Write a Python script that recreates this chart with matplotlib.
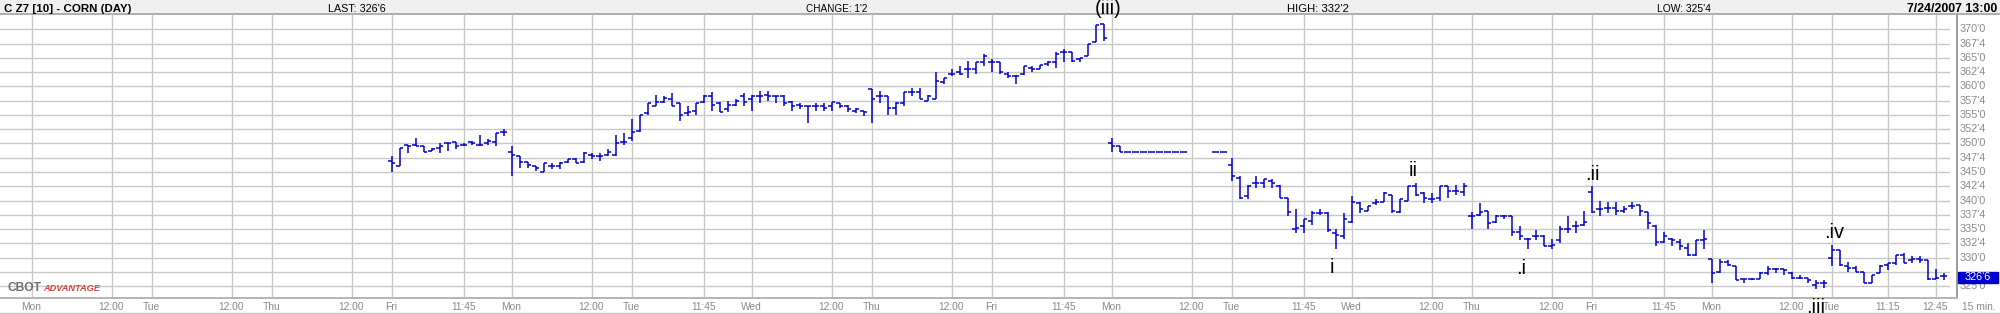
import matplotlib
matplotlib.use("Agg")
import matplotlib.pyplot as plt
from matplotlib import font_manager as fm
from matplotlib.patches import Rectangle
from matplotlib.lines import Line2D
from matplotlib.transforms import blended_transform_factory as blend

# sessions shown on the x axis (15 bars of 15 min each, 9:30 .. 13:00)
day_labels = ["Mon", "Tue", "Thu", "Fri", "Mon", "Tue", "Wed", "Thu",
              "Fri", "Mon", "Tue", "Wed", "Thu", "Fri", "Mon", "Tue"]
# intraday grid marks: (bar index within the session, label)
mid_marks = [[(10, "12:00")], [(10, "12:00")], [(10, "12:00")], [(9, "11:45")],
             [(10, "12:00")], [(9, "11:45")], [(10, "12:00")], [(10, "12:00")],
             [(9, "11:45")], [(10, "12:00")], [(9, "11:45")], [(10, "12:00")],
             [(10, "12:00")], [(9, "11:45")], [(10, "12:00")], [(7, "11:15"), (13, "12:45")]]
first_data_day = 3  # data starts on Fri (Jul 6)
BARS = 15
N = None
F = 348.5  # limit-down day, flat bars

opens = [
    347.0, 346.0, 349.75, 349.75, 349.5, 348.75, 349.25, 350.0, 350.25, 349.75, 350.25, 349.75, 350.0, 350.25, 352.0,
    348.5, 347.75, 346.75, 346.0, 345.0, 346.0, 346.0, 346.75, 347.25, 346.75, 348.0, 347.75, 348.0, 348.0, 350.25,
    351.0, 352.25, 355.25, 356.5, 357.25, 357.75, 357.0, 355.25, 355.75, 357.25, 358.25, 357.0, 356.0, 356.75, 358.25,
    357.75, 358.25, 358.5, 358.25, 358.25, 357.25, 356.75, 356.5, 356.5, 356.5, 356.5, 357.0, 356.5, 355.75, 355.75,
    359.5, 358.25, 358.25, 356.25, 357.0, 359.0, 359.0, 357.5, 357.75, 360.75, 362.25, 362.5, 363.0, 363.0, 364.25,
    364.25, 364.25, 362.25, 361.75, 362.25, 363.25, 363.0, 364.0, 364.25, 366.0, 366.0, 364.75, 365.25, 367.75, 371.0,
    350.0, 349.5, F, F, F, F, F, F, F, F, N, N, N, F, F,
    346.25, 344.0, 340.75, 343.0, 343.0, 343.5, 342.5, 340.5, 335.0, 335.5, 336.5, 337.75, 337.75, 334.25, 333.75,
    336.25, 339.5, 338.25, 339.5, 339.75, 341.0, 338.0, 340.0, 342.5, 341.25, 340.25, 340.5, 342.5, 341.75, 341.5,
    337.25, 337.5, 338.25, 336.25, 337.25, 337.25, 334.5, 333.25, 333.75, 333.75, 332.0, 333.0, 335.0, 335.5, 335.75,
    341.5, 338.5, 338.75, 338.75, 338.25, 339.0, 339.25, 338.0, 335.5, 332.75, 333.25, 332.75, 331.75, 330.5, 333.0,
    329.75, 327.5, 329.25, 328.5, 326.25, 326.25, 326.25, 327.25, 328.0, 328.0, 327.25, 326.5, 326.5, 325.25, 325.5,
    330.0, 331.25, 328.5, 328.25, 327.5, 325.5, 327.25, 328.75, 329.0, 330.5, 329.5, 329.75, 329.5, 326.25, 326.75,
]
highs = [
    347.75, 349.25, 349.75, 351.0, 349.5, 349.25, 350.0, 350.0, 350.25, 350.0, 350.5, 351.5, 350.75, 351.75, 352.5,
    349.5, 347.75, 346.75, 346.0, 346.5, 346.5, 346.75, 347.25, 347.5, 348.5, 348.25, 348.25, 349.0, 351.5, 351.75,
    354.25, 355.0, 357.0, 358.5, 358.25, 358.75, 357.0, 356.5, 357.0, 358.5, 359.0, 357.25, 357.5, 357.75, 358.75,
    358.5, 359.25, 359.25, 358.25, 358.5, 357.5, 357.0, 356.5, 357.0, 357.0, 357.25, 357.0, 356.75, 356.25, 355.75,
    359.5, 359.25, 358.25, 357.25, 359.0, 359.75, 359.75, 358.5, 362.5, 361.5, 363.0, 363.5, 364.5, 364.25, 365.75,
    364.75, 364.25, 362.5, 362.0, 363.5, 363.5, 363.75, 364.5, 366.0, 366.5, 366.0, 365.0, 367.5, 370.75, 371.0,
    351.0, 349.5, F, F, F, F, F, F, F, F, N, N, N, F, F,
    347.5, 344.25, 342.75, 344.25, 343.75, 343.75, 342.75, 340.5, 338.5, 336.75, 338.25, 338.5, 338.0, 335.0, 337.75,
    340.75, 339.75, 339.0, 340.25, 341.5, 341.0, 340.25, 342.5, 343.0, 341.5, 341.25, 342.5, 342.5, 342.75, 343.0,
    338.0, 339.5, 338.25, 337.5, 337.5, 337.25, 335.5, 333.5, 334.75, 334.0, 333.25, 335.5, 337.25, 336.5, 338.25,
    342.5, 340.0, 339.75, 339.75, 339.0, 339.75, 339.25, 338.0, 335.75, 334.5, 333.5, 333.25, 332.5, 333.0, 334.75,
    329.75, 329.75, 329.5, 328.5, 326.25, 326.5, 327.5, 328.5, 328.25, 328.0, 327.5, 327.0, 326.5, 326.0, 326.0,
    332.25, 331.25, 329.25, 328.5, 327.5, 327.0, 328.75, 329.0, 330.5, 330.75, 330.25, 330.25, 329.5, 328.0, 327.25,
]
lows = [
    345.0, 346.0, 348.25, 349.5, 348.5, 348.75, 348.25, 348.75, 349.0, 349.5, 349.75, 349.5, 349.75, 349.5, 351.25,
    344.25, 345.75, 345.75, 345.25, 345.0, 345.5, 345.5, 346.5, 346.5, 346.5, 347.25, 347.0, 347.75, 347.75, 349.75,
    350.5, 352.0, 355.0, 356.5, 357.0, 356.5, 354.0, 354.75, 355.0, 357.0, 355.75, 355.5, 355.5, 356.5, 356.5,
    355.75, 357.0, 357.5, 357.0, 356.5, 355.75, 356.0, 353.5, 355.75, 355.75, 355.75, 356.25, 355.5, 355.25, 354.75,
    353.5, 357.0, 355.0, 355.0, 356.5, 358.25, 357.75, 357.5, 357.75, 360.5, 361.75, 362.0, 361.5, 362.25, 363.5,
    362.5, 362.25, 361.5, 360.5, 362.0, 362.5, 363.0, 363.5, 363.25, 364.25, 364.25, 364.25, 365.25, 367.75, 368.0,
    348.5, 348.5, F, F, F, F, F, F, F, F, N, N, N, F, F,
    343.5, 340.25, 340.25, 342.25, 342.25, 342.25, 340.5, 337.25, 334.25, 334.25, 335.75, 337.5, 334.5, 331.5, 333.25,
    336.0, 337.75, 338.25, 339.25, 339.75, 337.75, 337.75, 340.0, 340.75, 339.5, 339.5, 340.0, 340.5, 341.0, 340.75,
    335.0, 337.25, 335.0, 336.0, 336.75, 333.75, 333.0, 331.5, 333.0, 332.0, 331.5, 332.5, 334.25, 334.25, 335.5,
    337.75, 337.25, 337.75, 337.5, 337.75, 338.5, 337.25, 335.0, 332.0, 332.5, 332.0, 331.25, 330.25, 330.25, 331.5,
    325.5, 327.25, 328.5, 326.0, 325.5, 326.0, 326.25, 327.0, 327.25, 327.0, 326.25, 326.25, 325.5, 324.5, 324.75,
    328.5, 328.5, 327.5, 327.5, 325.5, 325.5, 327.25, 327.75, 328.75, 329.0, 329.0, 329.0, 326.0, 326.25, 326.0,
]
closes = [
    346.5, 349.25, 349.5, 349.5, 348.5, 349.0, 349.5, 350.0, 349.5, 349.75, 350.0, 349.75, 350.5, 351.75, 352.0,
    348.0, 346.75, 346.25, 345.75, 346.5, 346.0, 346.5, 347.25, 346.5, 348.25, 347.75, 347.75, 348.5, 350.0, 350.25,
    352.0, 355.0, 357.0, 357.25, 358.0, 356.5, 355.0, 355.5, 357.0, 358.25, 356.75, 355.5, 356.75, 357.5, 357.25,
    358.25, 358.25, 358.25, 358.25, 357.0, 356.5, 356.5, 356.5, 356.5, 356.25, 357.25, 356.5, 356.0, 356.0, 355.5,
    357.75, 358.25, 356.25, 357.0, 359.0, 359.0, 357.75, 358.25, 361.0, 361.5, 362.25, 362.25, 363.0, 364.25, 365.25,
    364.25, 362.5, 361.75, 361.75, 363.5, 363.0, 363.75, 364.25, 365.75, 366.0, 364.5, 365.0, 367.5, 370.75, 368.5,
    349.5, 348.5, F, F, F, F, F, F, F, F, N, N, N, F, F,
    344.25, 340.5, 342.5, 343.0, 343.75, 343.0, 340.5, 338.0, 335.25, 336.75, 337.75, 337.75, 334.75, 334.0, 336.75,
    339.75, 338.5, 339.0, 339.75, 341.25, 338.25, 340.25, 342.5, 341.0, 340.5, 340.25, 342.5, 341.75, 341.75, 342.5,
    337.25, 338.0, 336.0, 337.25, 337.25, 334.5, 333.75, 333.25, 333.75, 332.0, 332.25, 335.0, 335.0, 335.5, 336.25,
    338.0, 338.5, 338.75, 338.25, 338.5, 339.0, 338.25, 336.0, 332.75, 333.75, 333.0, 332.0, 330.5, 333.0, 333.25,
    327.25, 329.25, 328.75, 326.0, 326.25, 326.25, 327.25, 328.0, 328.0, 327.75, 326.5, 326.5, 326.0, 325.5, 325.5,
    331.25, 328.75, 328.25, 327.5, 325.5, 327.0, 328.5, 329.0, 330.5, 329.0, 329.75, 329.5, 326.25, 326.5, 326.75,
]

price_ticks = [325.0 + 2.5 * i for i in range(19)]
last_price = 326.75

# wave labels: (text, x px, baseline px)
wave_labels = [("(iii)", 1108, 14), ("i", 1332, 272.7), ("ii", 1413, 176),
               (".i", 1521, 274), (".ii", 1592, 180), (".iv", 1834, 238.3),
               (".iii", 1816, 313)]

header = [("C Z7 [10] - CORN (DAY)", 3.5, 129.5, True),
          ("LAST: 326'6", 328, 386, False),
          ("CHANGE: 1'2", 806, 867, False),
          ("HIGH: 332'2", 1287, 1349, False),
          ("LOW: 325'4", 1657, 1711, False),
          ("7/24/2007 13:00", 1907, 1997, True)]

BLUE = "#0000cc"
GRID = "#c8c8c8"
AXTXT = "#8a8a8a"

W, H = 2000, 314


def fx(x):
    return x / W


def fy(y):
    return 1 - y / H


def price_str(p):
    whole = int(p)
    return f"{whole}'{int(round((p - whole) * 8))}"


try:
    fm.findfont(fm.FontProperties(family="Liberation Sans Narrow"), fallback_to_default=False)
    NARROW = "Liberation Sans Narrow"
except Exception:
    NARROW = "Liberation Sans"

fig = plt.figure(figsize=(W / 100, H / 100), dpi=100)
fig.patch.set_facecolor("white")
renderer = fig.canvas.get_renderer()

# plot area: x 0..1950 px, y 15..297 px; bar slot 0 (Mon 9:30) sits at x=31.5, 8 px per bar
ax = fig.add_axes([0, fy(297), fx(1950), (297 - 15) / H])
ax.set_xlim(-31.5 / 8, (1950 - 31.5) / 8)
ax.set_ylim(323.1, 372.5)
ax.set_axis_off()

for p in price_ticks:
    ax.axhline(p, color=GRID, lw=1.0, zorder=1)

xt = blend(ax.transData, fig.transFigure)
for d, lab in enumerate(day_labels):
    marks = [(0, lab)] + mid_marks[d]
    for k, txt in marks:
        s = d * BARS + k
        ax.axvline(s, color=GRID, lw=1.0, zorder=1)
        ax.text(s, fy(306.5), txt, transform=xt, ha="center", va="center",
                fontsize=7.4, color=AXTXT, family="Liberation Sans")

# OHLC bars
xs, hi, lo, op, cl = [], [], [], [], []
for i, o in enumerate(opens):
    if o is None:
        continue
    xs.append(first_data_day * BARS + i)
    op.append(o)
    hi.append(highs[i])
    lo.append(lows[i])
    cl.append(closes[i])
tk = 3.6 / 8
ax.vlines(xs, lo, hi, color=BLUE, lw=1.1, zorder=3)
ax.hlines(op, [x - tk for x in xs], xs, color=BLUE, lw=1.1, zorder=3)
ax.hlines(cl, xs, [x + tk for x in xs], color=BLUE, lw=1.1, zorder=3)

# right price axis (the label under the last-price box is hidden there)
yt = blend(fig.transFigure, ax.transData)
for p in price_ticks:
    if abs(p - last_price) < 1.5:
        continue
    ax.text(fx(1960), p, price_str(p), transform=yt, ha="left", va="center",
            fontsize=7.8, color=AXTXT, family="Liberation Sans")
fig.add_artist(Rectangle((fx(1958), fy(282.7)), fx(40), 11 / H, color=BLUE, zorder=5))
fig.text(fx(1978), fy(277.2), price_str(last_price), ha="center", va="center",
         fontsize=7.8, color="white", family="Liberation Sans", zorder=6)
fig.text(fx(1962), fy(306.5), "15 min.", ha="left", va="center", fontsize=7.4,
         color=AXTXT, family="Liberation Sans")

# frame lines
fig.add_artist(Line2D([fx(1956.5)] * 2, [fy(15), fy(297)], color="#8c8c8c", lw=1.2))
fig.add_artist(Line2D([0, fx(1957)], [fy(297.5)] * 2, color="#b4b4b4", lw=1.4))
fig.add_artist(Line2D([0, 1], [fy(312.8)] * 2, color="#c8c8c8", lw=1.0))

# header band
fig.add_artist(Rectangle((0, fy(14)), 1, 14 / H, color="#f0f0f0", zorder=0))
fig.add_artist(Line2D([0, 1], [fy(14.2)] * 2, color="#a8a8a8", lw=1.3))


def fit_text(s, x0, x1, ybase, **kw):
    t = fig.text(fx(x0), fy(ybase), s, ha="left", va="baseline", fontsize=10, **kw)
    w = t.get_window_extent(renderer).width
    t.set_fontsize(10 * (x1 - x0) / w)
    return t


for txt, x0, x1, bold in header:
    fit_text(txt, x0, x1, 11.5, family=NARROW, color="black",
             fontweight="bold" if bold else "normal")

# CBOT ADVANTAGE logo
fit_text("CBOT", 8, 42, 291, family=NARROW, color="#6e6e6e", fontweight="bold")
fit_text("ADVANTAGE", 43, 100, 291, family=NARROW, color="#d04848",
         fontweight="bold", fontstyle="italic")

# Elliott wave labels
for txt, x, yb in wave_labels:
    fig.text(fx(x), fy(yb), txt, ha="center", va="baseline", fontsize=14.4,
             color="black", family="Liberation Sans", zorder=7)

fig.savefig("out.png", dpi=100, facecolor="white")
